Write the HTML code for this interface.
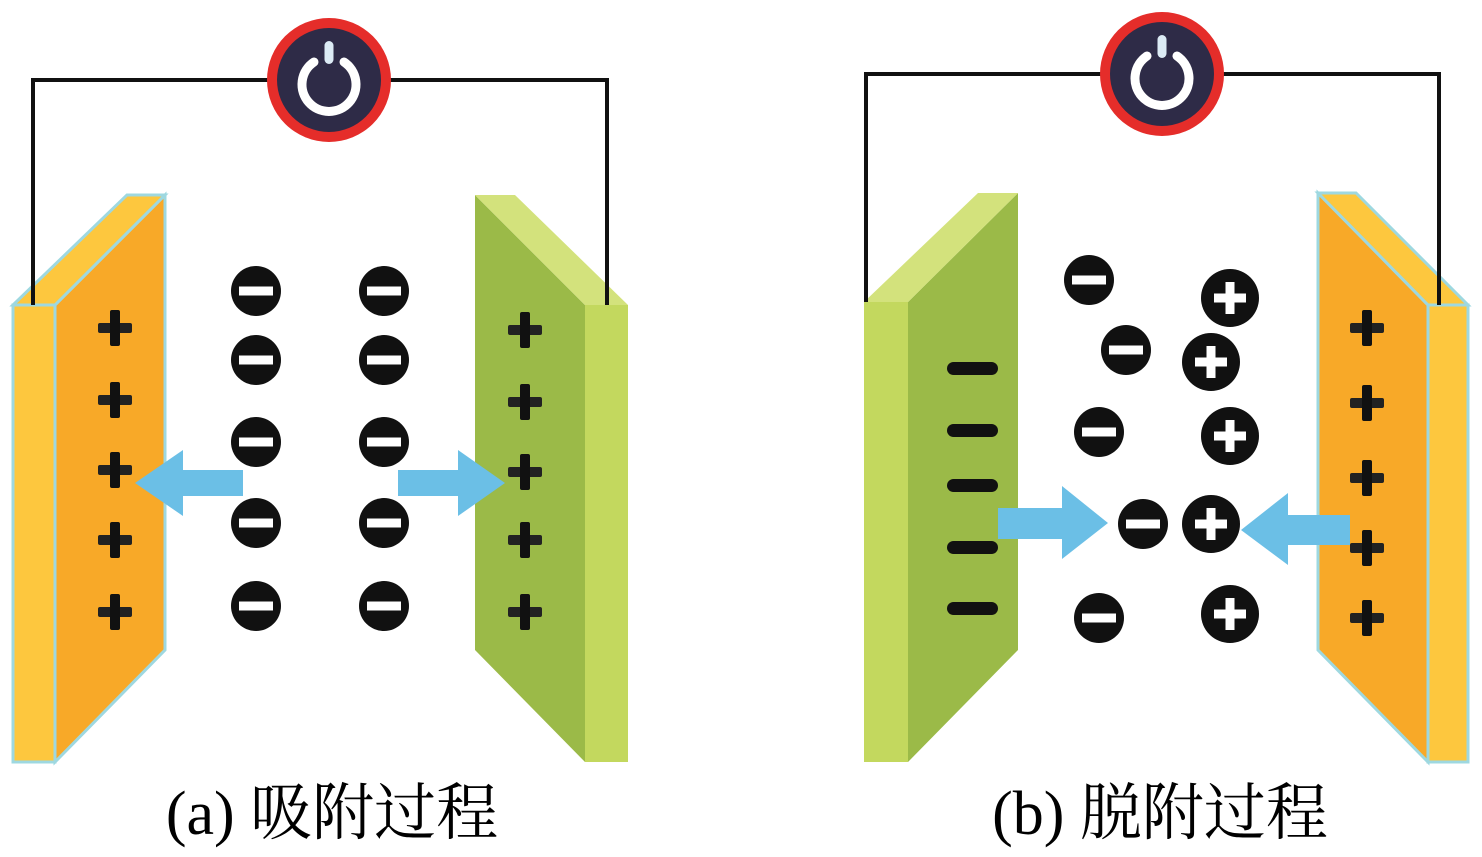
<!DOCTYPE html>
<html><head><meta charset="utf-8"><style>
html,body{margin:0;padding:0;background:#fff;}
svg{display:block;}
text{font-family:"Liberation Serif","Noto Serif CJK SC",serif;}
</style></head><body>
<svg width="1482" height="857" viewBox="0 0 1482 857" xmlns="http://www.w3.org/2000/svg">
<defs>
  <g id="minusIon"><circle r="25" fill="#111"/><rect x="-17" y="-4.5" width="34" height="9" fill="#fff"/></g>
  <g id="plusIon"><circle r="29" fill="#111"/><rect x="-16" y="-4.5" width="32" height="9" fill="#fff"/><rect x="-4.5" y="-16" width="9" height="32" fill="#fff"/></g>
  <g id="plusSign"><rect x="-17" y="-5" width="34" height="10" rx="2" fill="#222"/><rect x="-5" y="-18" width="10" height="36" rx="2" fill="#111"/></g>
  <g id="power">
    <circle r="62" fill="#E52D2A"/>
    <circle r="52" fill="#2E2B47"/>
    <path d="M -15 -20 A 27 27 0 1 0 15 -20" fill="none" stroke="#fff" stroke-width="9" stroke-linecap="round" transform="translate(0,2)"/>
    <rect x="-4.5" y="-39" width="9" height="23" rx="4.5" fill="#DCEBF5"/>
  </g>
</defs>

<!-- ===== Panel (a) ===== -->
<polyline points="33,305 33,80 607,80 607,305" fill="none" stroke="#111" stroke-width="4"/>
<use href="#power" x="329" y="80"/>

<polygon points="55,305 165,195 165,650 55,762" fill="#F8A928" stroke="#9ED8E0" stroke-width="3"/>
<polygon points="13,305 127,195 165,195 55,305" fill="#FDC73E" stroke="#9ED8E0" stroke-width="3"/>
<rect x="13" y="305" width="42" height="457" fill="#FDC73E" stroke="#9ED8E0" stroke-width="3"/>
<line x1="33" y1="305" x2="33" y2="80" stroke="#111" stroke-width="4"/>
<use href="#plusSign" x="115" y="328"/>
<use href="#plusSign" x="115" y="400"/>
<use href="#plusSign" x="115" y="470"/>
<use href="#plusSign" x="115" y="540"/>
<use href="#plusSign" x="115" y="612"/>

<polygon points="475,195 585,305 585,762 475,650" fill="#9BBA48"/>
<polygon points="475,195 515,195 628,305 585,305" fill="#D3E27C"/>
<rect x="585" y="305" width="43" height="457" fill="#C3D85E"/>
<line x1="607" y1="305" x2="607" y2="80" stroke="#111" stroke-width="4"/>
<use href="#plusSign" x="525" y="330"/>
<use href="#plusSign" x="525" y="402"/>
<use href="#plusSign" x="525" y="472"/>
<use href="#plusSign" x="525" y="540"/>
<use href="#plusSign" x="525" y="612"/>

<use href="#minusIon" x="256" y="291"/><use href="#minusIon" x="384" y="291"/>
<use href="#minusIon" x="256" y="360"/><use href="#minusIon" x="384" y="360"/>
<use href="#minusIon" x="256" y="442"/><use href="#minusIon" x="384" y="442"/>
<use href="#minusIon" x="256" y="523"/><use href="#minusIon" x="384" y="523"/>
<use href="#minusIon" x="256" y="606"/><use href="#minusIon" x="384" y="606"/>

<polygon points="243,470 183,470 183,450 135,483 183,516 183,496 243,496" fill="#6BBFE6"/>
<polygon points="398,470 458,470 458,450 505,483 458,516 458,496 398,496" fill="#6BBFE6"/>

<text x="332" y="834" font-size="62" text-anchor="middle">(a) 吸附过程</text>

<!-- ===== Panel (b) ===== -->
<polyline points="866,302 866,74 1439,74 1439,305" fill="none" stroke="#111" stroke-width="4"/>
<use href="#power" x="1162" y="74"/>

<polygon points="908,302 1018,193 1018,650 908,762" fill="#9BBA48"/>
<polygon points="864,302 978,193 1018,193 908,302" fill="#D3E27C"/>
<rect x="864" y="302" width="44" height="460" fill="#C3D85E"/>
<line x1="866" y1="302" x2="866" y2="74" stroke="#111" stroke-width="4"/>
<g fill="#111">
<rect x="947" y="362" width="51" height="13" rx="6.5"/>
<rect x="947" y="424" width="51" height="13" rx="6.5"/>
<rect x="947" y="479" width="51" height="13" rx="6.5"/>
<rect x="947" y="541" width="51" height="13" rx="6.5"/>
<rect x="947" y="602" width="51" height="13" rx="6.5"/>
</g>

<polygon points="1318,193 1428,305 1428,762 1318,650" fill="#F8A928" stroke="#9ED8E0" stroke-width="3"/>
<polygon points="1318,193 1356,193 1468,305 1428,305" fill="#FDC73E" stroke="#9ED8E0" stroke-width="3"/>
<rect x="1428" y="305" width="40" height="457" fill="#FDC73E" stroke="#9ED8E0" stroke-width="3"/>
<line x1="1439" y1="305" x2="1439" y2="74" stroke="#111" stroke-width="4"/>
<use href="#plusSign" x="1367" y="328"/>
<use href="#plusSign" x="1367" y="403"/>
<use href="#plusSign" x="1367" y="478"/>
<use href="#plusSign" x="1367" y="548"/>
<use href="#plusSign" x="1367" y="618"/>

<use href="#minusIon" x="1089" y="280"/>
<use href="#minusIon" x="1126" y="350"/>
<use href="#minusIon" x="1099" y="432"/>
<use href="#minusIon" x="1143" y="524"/>
<use href="#minusIon" x="1099" y="618"/>
<use href="#plusIon" x="1230" y="298"/>
<use href="#plusIon" x="1211" y="362"/>
<use href="#plusIon" x="1230" y="436"/>
<use href="#plusIon" x="1211" y="524"/>
<use href="#plusIon" x="1230" y="614"/>

<polygon points="998,508 1062,508 1062,486 1108,523 1062,559 1062,539 998,539" fill="#6BBFE6"/>
<polygon points="1350,515 1288,515 1288,493 1241,530 1288,565 1288,545 1350,545" fill="#6BBFE6"/>

<text x="1160" y="834" font-size="62" text-anchor="middle">(b) 脱附过程</text>
</svg>
</body></html>
